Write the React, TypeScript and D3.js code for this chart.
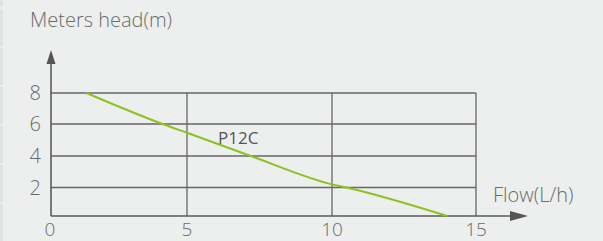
import { useEffect, useRef } from 'react'
import * as d3 from 'd3'

const xTicks = [0, 5, 10, 15]
const yTicks = [2, 4, 6, 8]
const seriesName = 'P12C'
const flow = [1.3, 4.1, 5, 7.2, 10, 10.5, 14]
const head = [8, 6, 5.45, 4, 2.2, 2, 0]

export default function App() {
  const svgRef = useRef<SVGSVGElement | null>(null)

  useEffect(() => {
    if (!svgRef.current) return
    const svg = d3.select(svgRef.current)
    svg.selectAll('*').remove()
    const width = 603
    const height = 241

    svg.append('rect').attr('width', width).attr('height', height).attr('fill', '#edefee')

    // left edge strip
    svg.append('rect').attr('width', 3).attr('height', height).attr('fill', '#e1e3e2')
    d3.range(8, height, 39).forEach((y) => {
      svg.append('line').attr('x1', 0).attr('x2', 3).attr('y1', y).attr('y2', y)
        .attr('stroke', '#f7f8f8').attr('stroke-width', 1)
    })

    const x = d3.scaleLinear().domain([0, 5, 10, 15]).range([51, 187, 332, 476])
    const y = d3.scaleLinear().domain([0, 2, 4, 6, 8]).range([216, 187.5, 156, 124, 93])

    const gridColor = '#666'
    const textColor = '#6a6a6a'
    const font = "'Open Sans', 'DejaVu Sans', sans-serif"

    // horizontal grid
    svg.append('g').selectAll('line').data(yTicks).enter().append('line')
      .attr('x1', x(0)).attr('x2', x(15))
      .attr('y1', (d) => y(d)).attr('y2', (d) => y(d))
      .attr('stroke', gridColor).attr('stroke-width', 1.3)

    // vertical grid
    svg.append('g').selectAll('line').data(xTicks.slice(1)).enter().append('line')
      .attr('x1', (d) => x(d)).attr('x2', (d) => x(d))
      .attr('y1', y(8)).attr('y2', y(0))
      .attr('stroke', gridColor).attr('stroke-width', 1.3)

    // axes with arrows
    svg.append('line').attr('x1', x(0)).attr('x2', 515).attr('y1', y(0)).attr('y2', y(0))
      .attr('stroke', '#5a5a5a').attr('stroke-width', 1.6)
    svg.append('path').attr('d', `M528,${y(0)} L510,${y(0) - 5} L510,${y(0) + 5} Z`).attr('fill', '#555')
    svg.append('line').attr('x1', x(0)).attr('x2', x(0)).attr('y1', y(0)).attr('y2', 60)
      .attr('stroke', '#5a5a5a').attr('stroke-width', 1.6)
    svg.append('path').attr('d', `M${x(0)},50 L${x(0) - 4.5},64 L${x(0) + 4.5},64 Z`).attr('fill', '#555')

    // tick labels
    svg.append('g').selectAll('text').data(yTicks).enter().append('text')
      .attr('x', 41).attr('y', (d) => y(d)).attr('dy', '0.36em')
      .attr('text-anchor', 'end')
      .style('font-family', font).style('font-size', '20px').style('font-weight', 300)
      .attr('fill', textColor).text((d) => d)

    svg.append('g').selectAll('text').data(xTicks).enter().append('text')
      .attr('x', (d) => x(d) - (d === 0 ? 1 : 0)).attr('y', 236)
      .attr('text-anchor', 'middle')
      .style('font-family', font).style('font-size', '19px').style('font-weight', 300)
      .attr('fill', textColor).text((d) => d)

    // axis titles
    svg.append('text').attr('x', 30).attr('y', 27)
      .style('font-family', font).style('font-size', '20px').style('font-weight', 300)
      .attr('fill', textColor).text('Meters head(m)')
    svg.append('text').attr('x', 493).attr('y', 202)
      .style('font-family', font).style('font-size', '20px').style('font-weight', 300)
      .attr('fill', textColor).text('Flow(L/h)')

    // curve
    const pts = flow.map((f, i) => [f, head[i]] as [number, number])
    const line = d3.line<[number, number]>()
      .x((d) => x(d[0])).y((d) => y(d[1]))
      .curve(d3.curveMonotoneX)
    svg.append('path').attr('d', line(pts))
      .attr('fill', 'none').attr('stroke', '#8cc220').attr('stroke-width', 2)

    svg.append('text').attr('x', 218).attr('y', 144)
      .style('font-family', font).style('font-size', '17px').style('font-weight', 500)
      .attr('fill', '#555').text(seriesName)
  }, [])

  return <svg ref={svgRef} width={603} height={241} style={{ position: 'absolute', left: 0, top: 0 }} />
}
